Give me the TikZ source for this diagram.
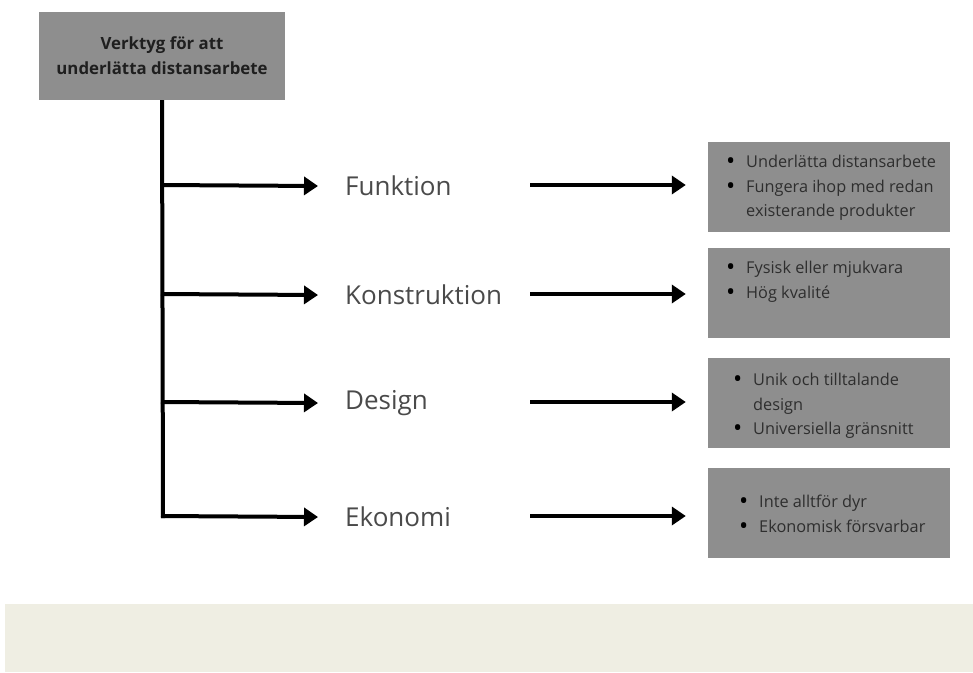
\documentclass[tikz,border=0pt]{standalone}
\usepackage{fontspec}
\setmainfont{Open Sans}
\usetikzlibrary{arrows.meta}
\definecolor{boxgray}{HTML}{8E8E8E}
\definecolor{labelgray}{HTML}{4A4A4A}
\definecolor{itemgray}{HTML}{2E2E2E}
\definecolor{bandbeige}{HTML}{EFEEE3}
\newcommand{\bul}[1]{\makebox[18pt][l]{\hspace*{-2pt}\textcolor{black}{\raisebox{-2pt}{\scalebox{1.5}{\textbullet}}}}#1}
\newcommand{\cont}[1]{\hspace*{18pt}#1}
\tikzset{
  x=1pt, y=-1pt,
  greybox/.style={fill=boxgray, draw=none, inner sep=0pt},
  topbox/.style={greybox, minimum width=246pt, minimum height=88pt, align=center,
    font=\fontsize{16.8pt}{25pt}\selectfont\bfseries, text=black!88},
  itembox/.style={greybox, minimum width=242pt, minimum height=90pt},
  itemtext/.style={anchor=west, inner sep=0pt, align=left, text=itemgray,
    font=\fontsize{16.3pt}{24.5pt}\selectfont},
  aspect/.style={anchor=west, inner sep=0pt, text=labelgray,
    font=\fontsize{26pt}{30pt}\selectfont},
  link/.style={line width=4pt, black, -{Triangle[length=14pt,width=18pt]}},
  trunk/.style={line width=4pt, black},
}
\begin{document}
\begin{tikzpicture}
  % canvas and the pale band along the bottom
  \useasboundingbox (0,0) rectangle (973,672);
  \fill[white] (0,0) rectangle (973,672);
  \fill[bandbeige] (5,604) rectangle (973,672);

  % heading box
  \node[topbox] (top) at (162,56) {Verktyg för att\\underlätta distansarbete};

  % branch points on the trunk
  \coordinate (b1) at (163,185);
  \coordinate (b2) at (163,294);
  \coordinate (b3) at (163,402);
  \coordinate (b4) at (163,516);

  % aspect labels
  \node[aspect] (l1) at (345,186) {Funktion};
  \node[aspect] (l2) at (345,295) {Konstruktion};
  \node[aspect] (l3) at (345,403) {Design};
  \node[aspect] (l4) at (345,517) {Ekonomi};

  % start points of the right-hand arrows
  \coordinate (a1) at (530,185);
  \coordinate (a2) at (530,294);
  \coordinate (a3) at (530,402);
  \coordinate (a4) at (530,516);

  % grey boxes with the requirements
  \node[itembox] (r1) at (829,186.5) {};
  \node[itembox] (r2) at (829,292.5) {};
  \node[itembox] (r3) at (829,402.5) {};
  \node[itembox] (r4) at (829,512.5) {};

  \node[itemtext] (t1) at (728,188) {\bul{Underlätta distansarbete}\\\bul{Fungera ihop med redan}\\\cont{existerande produkter}};
  \node[itemtext] (t2) at (728,282) {\bul{Fysisk eller mjukvara}\\\bul{Hög kvalité}};
  \node[itemtext] (t3) at (735,406) {\bul{Unik och tilltalande}\\\cont{design}\\\bul{Universiella gränsnitt}};
  \node[itemtext] (t4) at (741,515) {\bul{Inte alltför dyr}\\\bul{Ekonomisk försvarbar}};

  % trunk and branches
  \draw[trunk] (top.south) -- ([yshift=-2pt]b4);
  \draw[link] ([xshift=-2pt]b1) -- ([xshift=-27pt]l1.west);
  \draw[link] ([xshift=-2pt]b2) -- ([xshift=-27pt]l2.west);
  \draw[link] ([xshift=-2pt]b3) -- ([xshift=-27pt]l3.west);
  \draw[link] ([xshift=-2pt]b4) -- ([xshift=-27pt]l4.west);

  % arrows into the requirement boxes
  \draw[link] (a1) -- ([xshift=-22pt]r1.west |- a1);
  \draw[link] (a2) -- ([xshift=-22pt]r2.west |- a2);
  \draw[link] (a3) -- ([xshift=-22pt]r3.west |- a3);
  \draw[link] (a4) -- ([xshift=-22pt]r4.west |- a4);
\end{tikzpicture}
\end{document}
